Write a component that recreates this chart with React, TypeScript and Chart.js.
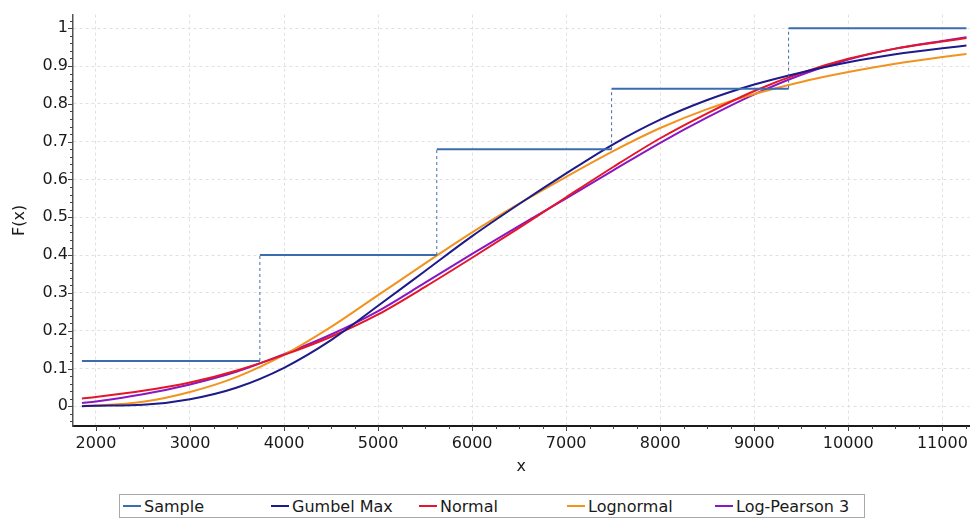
import React, { useEffect, useRef } from "react";
import { Chart, registerables } from "chart.js";

Chart.register(...registerables);

const xGrid = [1851, 2000, 2500, 3000, 3500, 4000, 4500, 5000, 5500, 6000, 6500, 7000, 7500, 8000, 8500, 9000, 9500, 10000, 10500, 11000, 11256];
const gumbelMax = [0.0005, 0.0015, 0.004, 0.019, 0.050, 0.102, 0.175, 0.266, 0.358, 0.450, 0.535, 0.616, 0.693, 0.758, 0.810, 0.851, 0.883, 0.910, 0.931, 0.947, 0.954];
const normal = [0.021, 0.025, 0.041, 0.063, 0.095, 0.136, 0.184, 0.243, 0.316, 0.393, 0.472, 0.553, 0.633, 0.709, 0.775, 0.834, 0.882, 0.919, 0.946, 0.965, 0.974];
const lognormal = [0.001, 0.002, 0.012, 0.038, 0.078, 0.136, 0.210, 0.294, 0.378, 0.460, 0.536, 0.607, 0.675, 0.736, 0.786, 0.826, 0.858, 0.884, 0.906, 0.924, 0.932];
const logPearson3 = [0.009, 0.013, 0.032, 0.058, 0.092, 0.138, 0.190, 0.252, 0.327, 0.403, 0.477, 0.550, 0.624, 0.697, 0.764, 0.825, 0.877, 0.917, 0.946, 0.966, 0.976];

// empirical (sample) step function
const sampleEdges = [1851, 3743, 5624, 7483, 9365, 11256];
const sampleLevels = [0.12, 0.4, 0.68, 0.84, 1.0];

const xTicks = [2000, 3000, 4000, 5000, 6000, 7000, 8000, 9000, 10000, 11000];
const yTicks = [0, 0.1, 0.2, 0.3, 0.4, 0.5, 0.6, 0.7, 0.8, 0.9, 1];

const seriesNames = ["Sample", "Gumbel Max", "Normal", "Lognormal", "Log-Pearson 3"];
const seriesColors = ["#3b6cae", "#1d1a8a", "#e3162a", "#f2921f", "#8a17c2"];

const X_MIN = 1756;
const X_MAX = 11290;
const Y_MIN = -0.052;
const Y_MAX = 1.036;
const FONT = "'DejaVu Sans', 'Liberation Sans', Arial, sans-serif";

const tickPlugin = {
  id: "axisTicks",
  afterDraw(chart: any) {
    const { ctx, chartArea, scales } = chart;
    const xs = scales.x;
    const ys = scales.y;
    ctx.save();
    ctx.strokeStyle = "#444";
    ctx.lineWidth = 1;
    ctx.beginPath();
    for (let i = -5; i <= 60; i++) {
      const v = i * 0.02;
      if (v < Y_MIN || v > Y_MAX) continue;
      const py = Math.round(ys.getPixelForValue(v)) + 0.5;
      const len = i % 5 === 0 ? 5 : 3;
      ctx.moveTo(chartArea.left - len, py);
      ctx.lineTo(chartArea.left, py);
    }
    for (let i = 0; i <= 60; i++) {
      const v = 1750 + i * 250;
      if (v < X_MIN || v > X_MAX) continue;
      const px = Math.round(xs.getPixelForValue(v)) + 0.5;
      const len = (v % 1000) === 0 ? 5 : 3;
      ctx.moveTo(px, chartArea.bottom);
      ctx.lineTo(px, chartArea.bottom + len);
    }
    ctx.stroke();
    ctx.restore();
  },
};

export default function App() {
  const canvasRef = useRef<HTMLCanvasElement | null>(null);

  useEffect(() => {
    if (!canvasRef.current) return;
    const samplePts: { x: number; y: number }[] = [];
    sampleLevels.forEach((lv, i) => {
      samplePts.push({ x: sampleEdges[i], y: lv });
      samplePts.push({ x: sampleEdges[i + 1], y: lv });
    });
    const curve = (vals: number[]) => xGrid.map((x, i) => ({ x, y: vals[i] }));
    const curveDs = (idx: number, vals: number[]) => ({
      label: seriesNames[idx],
      data: curve(vals),
      borderColor: seriesColors[idx],
      backgroundColor: seriesColors[idx],
      borderWidth: 2,
      pointRadius: 0,
      cubicInterpolationMode: "monotone" as const,
      fill: false,
    });

    const chart = new Chart(canvasRef.current, {
      type: "line",
      data: {
        datasets: [
          {
            label: seriesNames[0],
            data: samplePts,
            borderColor: seriesColors[0],
            backgroundColor: seriesColors[0],
            borderWidth: 2,
            pointRadius: 0,
            tension: 0,
            fill: false,
            segment: {
              borderDash: (c: any) => (c.p0.parsed.x === c.p1.parsed.x ? [3, 3] : undefined),
              borderWidth: (c: any) => (c.p0.parsed.x === c.p1.parsed.x ? 1 : 2),
            },
          } as any,
          curveDs(1, gumbelMax),
          curveDs(2, normal),
          curveDs(3, lognormal),
          curveDs(4, logPearson3),
        ],
      },
      options: {
        animation: false,
        responsive: true,
        maintainAspectRatio: false,
        layout: { padding: { top: 9, right: 6, left: 0, bottom: 0 } },
        plugins: {
          legend: { display: false },
          tooltip: { enabled: false },
        },
        scales: {
          x: {
            type: "linear",
            min: X_MIN,
            max: X_MAX,
            afterBuildTicks: (s: any) => {
              s.ticks = xTicks.map((v) => ({ value: v }));
            },
            afterFit: (s: any) => {
              s.height = 64;
            },
            ticks: {
              font: { family: FONT, size: 16 },
              color: "#1a1a1a",
              padding: 8,
              maxRotation: 0,
              autoSkip: false,
              callback: (v: any) => String(v),
            },
            grid: { color: "#e0e0e0", lineWidth: 1, drawTicks: false },
            border: { display: true, color: "#1a1a1a", width: 2, dash: [3, 3] },
            title: {
              display: true,
              text: "x",
              font: { family: FONT, size: 16 },
              color: "#1a1a1a",
              padding: { top: 0, bottom: 14 },
            },
          },
          y: {
            type: "linear",
            min: Y_MIN,
            max: Y_MAX,
            afterBuildTicks: (s: any) => {
              s.ticks = yTicks.map((v) => ({ value: v }));
            },
            afterFit: (s: any) => {
              s.width = 73;
            },
            ticks: {
              font: { family: FONT, size: 16 },
              color: "#1a1a1a",
              padding: 5,
              autoSkip: false,
              callback: (v: any) => String(Math.round(Number(v) * 10) / 10),
            },
            grid: { color: "#e0e0e0", lineWidth: 1, drawTicks: false },
            border: { display: true, color: "#555", width: 1.5, dash: [3, 3] },
            title: {
              display: true,
              text: "F(x)",
              font: { family: FONT, size: 16 },
              color: "#1a1a1a",
              padding: { top: 10, bottom: 0 },
            },
          },
        },
      },
      plugins: [tickPlugin],
    });
    return () => chart.destroy();
  }, []);

  return (
    <div style={{ position: "fixed", left: 0, top: 0, width: 976, height: 523, background: "#fff" }}>
      <div style={{ position: "absolute", left: 0, top: 0, width: 976, height: 490 }}>
        <canvas ref={canvasRef} />
      </div>
      <div
        style={{
          position: "absolute",
          left: 119,
          top: 494,
          width: 746,
          height: 24,
          boxSizing: "border-box",
          border: "1px solid #a8a8a8",
          display: "flex",
          alignItems: "center",
          paddingLeft: 3,
          fontFamily: FONT,
          fontSize: 16,
          color: "#1a1a1a",
        }}
      >
        {seriesNames.map((name, i) => (
          <div key={name} style={{ width: 148, display: "flex", alignItems: "center", whiteSpace: "nowrap" }}>
            <span style={{ display: "inline-block", width: 18, height: 2, background: seriesColors[i], marginRight: 3 }} />
            <span>{name}</span>
          </div>
        ))}
      </div>
    </div>
  );
}
